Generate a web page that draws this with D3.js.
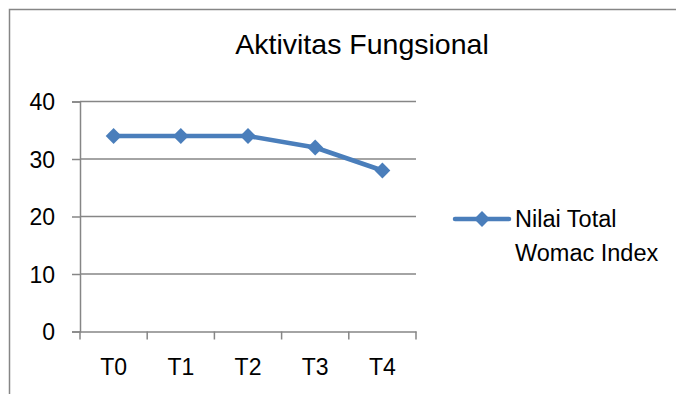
<!DOCTYPE html>
<html>
<head>
<meta charset="utf-8">
<script src="https://cdn.jsdelivr.net/npm/d3@7"></script>
<style>
  body { margin: 0; background: #fff; }
  text { font-family: "Liberation Sans", Arial, sans-serif; fill: #000; }
</style>
</head>
<body>
<div id="chart"></div>
<script>
const categories = ["T0", "T1", "T2", "T3", "T4"];
const values = [34, 34, 34, 32, 28];
const yTicks = [0, 10, 20, 30, 40];
const seriesName = ["Nilai Total", "Womac Index"];
const title = "Aktivitas Fungsional";

const svgWidth = 676, svgHeight = 394;
const margin = {top: 101.5, right: 260, bottom: 62, left: 80};
const width = 336;
const height = 230;

const lineColour = "#4A7EBB";
const gridColour = "#868686";

const svg = d3.select("#chart").append("svg")
    .attr("width", svgWidth)
    .attr("height", svgHeight);

// outer frame (top and left edge visible)
svg.append("path")
    .attr("d", `M9.5,${svgHeight} V9.5 H${svgWidth}`)
    .attr("fill", "none")
    .attr("stroke", gridColour)
    .attr("stroke-width", 1.5);

svg.append("text")
    .attr("x", 362)
    .attr("y", 54)
    .attr("text-anchor", "middle")
    .style("font-size", "28.5px")
    .text(title);

const plotArea = svg.append("g")
    .attr("transform", `translate(${margin.left},${margin.top})`);

const x = d3.scaleBand()
    .domain(categories)
    .range([0, width]);

const y = d3.scaleLinear()
    .domain([0, 40])
    .range([height, 0]);

// gridlines
plotArea.append("g")
    .selectAll("line")
    .data(yTicks.filter(d => d > 0))
    .join("line")
    .attr("x1", 0)
    .attr("x2", width)
    .attr("y1", d => y(d))
    .attr("y2", d => y(d))
    .attr("stroke", gridColour)
    .attr("stroke-width", 1.5);

const yAxis = plotArea.append("g")
    .call(d3.axisLeft(y).tickValues(yTicks).tickSize(8).tickPadding(17));

const xAxis = plotArea.append("g")
    .attr("transform", `translate(0,${height})`)
    .call(d3.axisBottom(x).tickSize(0).tickPadding(27));

// category boundary ticks
xAxis.selectAll(".bound")
    .data(d3.range(categories.length + 1))
    .join("line")
    .attr("class", "bound")
    .attr("x1", i => i * x.step())
    .attr("x2", i => i * x.step())
    .attr("y1", 0)
    .attr("y2", 8);

[yAxis, xAxis].forEach(ax => {
    ax.selectAll("path.domain").attr("stroke", gridColour).attr("stroke-width", 1.5);
    ax.selectAll("line").attr("stroke", gridColour).attr("stroke-width", 1.5);
    ax.selectAll("text").style("font-size", "23px").attr("fill", "#000");
});
yAxis.selectAll("text").attr("dy", "0.36em");
xAxis.selectAll(".tick text").attr("dy", "0.71em");

const line = d3.line()
    .x((d, i) => x(categories[i]) + x.bandwidth() / 2)
    .y(d => y(d));

plotArea.append("path")
    .datum(values)
    .attr("d", line)
    .attr("fill", "none")
    .attr("stroke", lineColour)
    .attr("stroke-width", 4.5)
    .attr("stroke-linejoin", "round");

const diamond = d3.symbol().type(d3.symbolDiamond2).size(160);

plotArea.selectAll(".marker")
    .data(values)
    .join("path")
    .attr("class", "marker")
    .attr("d", diamond)
    .attr("transform", (d, i) => `translate(${x(categories[i]) + x.bandwidth() / 2},${y(d)})`)
    .attr("fill", lineColour);

// legend
const legend = svg.append("g")
    .attr("transform", "translate(455,219)");

legend.append("line")
    .attr("x1", 0)
    .attr("x2", 54)
    .attr("stroke", lineColour)
    .attr("stroke-width", 4.5)
    .attr("stroke-linecap", "round");

legend.append("path")
    .attr("d", diamond)
    .attr("transform", "translate(27,0)")
    .attr("fill", lineColour);

legend.selectAll(".legend-text")
    .data(seriesName)
    .join("text")
    .attr("class", "legend-text")
    .attr("x", 60)
    .attr("y", (d, i) => 8 + i * 34)
    .style("font-size", "23.5px")
    .text(d => d);
</script>
</body>
</html>
